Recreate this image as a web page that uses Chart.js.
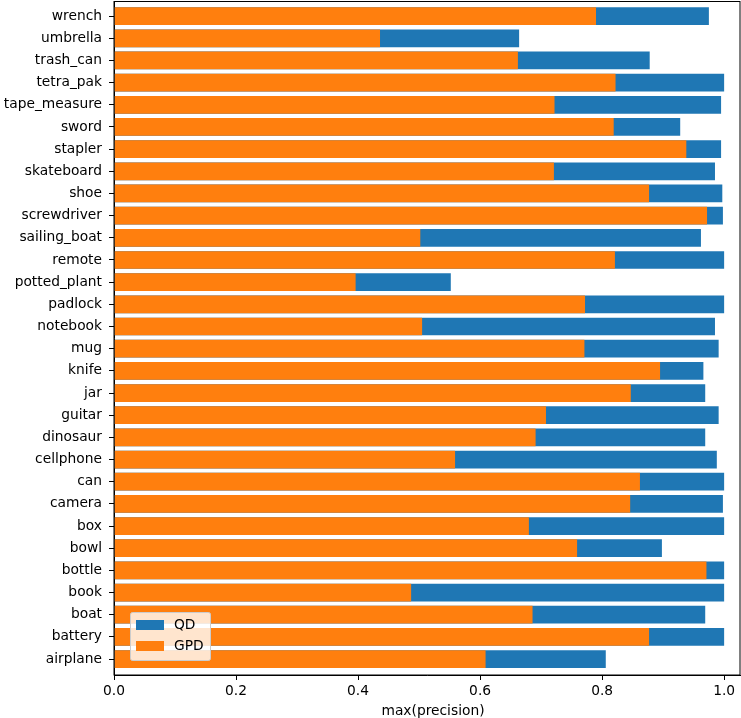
<!DOCTYPE html>
<html>
<head>
<meta charset="utf-8">
<script src="https://cdn.jsdelivr.net/npm/chart.js@4"></script>
<style>html,body{margin:0;padding:0;background:#fff}</style>
</head>
<body>
<canvas id="chart" width="741" height="718"></canvas>
<script>
// categories from bottom (index 0) to top
const categories = ["airplane", "battery", "boat", "book", "bottle", "bowl", "box", "camera", "can", "cellphone",
  "dinosaur", "guitar", "jar", "knife", "mug", "notebook", "padlock", "potted_plant", "remote", "sailing_boat",
  "screwdriver", "shoe", "skateboard", "stapler", "sword", "tape_measure", "tetra_pak", "trash_can", "umbrella", "wrench"];

const qdValues = [0.806, 1.0, 0.969, 1.0, 1.0, 0.898, 1.0, 0.998, 1.0, 0.988,
  0.969, 0.991, 0.969, 0.966, 0.991, 0.985, 1.0, 0.552, 1.0, 0.962,
  0.998, 0.997, 0.985, 0.995, 0.928, 0.995, 1.0, 0.878, 0.664, 0.975];

const gpdValues = [0.609, 0.877, 0.686, 0.487, 0.971, 0.759, 0.680, 0.846, 0.862, 0.559,
  0.691, 0.708, 0.847, 0.895, 0.771, 0.505, 0.772, 0.396, 0.821, 0.502,
  0.972, 0.877, 0.721, 0.938, 0.819, 0.722, 0.822, 0.662, 0.436, 0.790];

const xTicks = [0, 0.2, 0.4, 0.6, 0.8, 1.0];
const xLabel = "max(precision)";

const FONT = "'DejaVu Sans', sans-serif";
const FSIZE = 13.8;

// matplotlib-like box around the axes, plus the x label (sits a bit right of centre in the original)
const framePlugin = {
  id: "frame",
  afterDraw(chart) {
    const { ctx, chartArea: a } = chart;
    ctx.save();
    ctx.strokeStyle = "#000";
    ctx.lineWidth = 1;
    ctx.strokeRect(a.left, a.top, a.right - a.left, a.bottom - a.top);
    ctx.font = FSIZE + "px " + FONT;
    ctx.fillStyle = "#000";
    ctx.textAlign = "center";
    ctx.textBaseline = "middle";
    ctx.fillText(xLabel, (a.left + a.right) / 2 + 6, a.bottom + 36);
    ctx.restore();
  }
};

// legend box in the lower left of the axes
const legendBoxPlugin = {
  id: "legendBox",
  afterDraw(chart) {
    const { ctx, chartArea: a } = chart;
    const x = a.left + 16, y = a.bottom - 63, w = 80, h = 48;
    ctx.save();
    ctx.fillStyle = "rgba(255,255,255,0.8)";
    ctx.strokeStyle = "#cccccc";
    ctx.lineWidth = 1;
    ctx.beginPath();
    ctx.roundRect(x + 0.5, y + 0.5, w, h, 2);
    ctx.fill();
    ctx.stroke();
    ctx.font = FSIZE + "px " + FONT;
    ctx.textBaseline = "middle";
    ctx.textAlign = "left";
    chart.data.datasets.forEach((ds, i) => {
      const ry = y + 8 + i * 21;
      ctx.fillStyle = ds.backgroundColor;
      ctx.fillRect(x + 6, ry, 28, 10);
      ctx.fillStyle = "#000";
      ctx.fillText(ds.label, x + 44, ry + 5);
    });
    ctx.restore();
  }
};

new Chart(document.getElementById("chart"), {
  type: "bar",
  data: {
    datasets: [
      {
        label: "QD",
        data: qdValues.map((v, i) => ({ x: v, y: i })),
        backgroundColor: "#1f77b4",
        order: 1
      },
      {
        label: "GPD",
        data: gpdValues.map((v, i) => ({ x: v, y: i })),
        backgroundColor: "#ff7f0e",
        order: 0
      }
    ]
  },
  options: {
    indexAxis: "y",
    responsive: false,
    animation: false,
    grouped: false,
    categoryPercentage: 1,
    barPercentage: 0.8,
    layout: { padding: { top: 1.5, right: 1, left: 0, bottom: 0 } },
    plugins: {
      legend: { display: false },
      tooltip: { enabled: false }
    },
    scales: {
      x: {
        type: "linear",
        min: 0,
        max: 1.026,
        afterBuildTicks: (scale) => { scale.ticks = xTicks.map((v) => ({ value: v })); },
        afterFit: (scale) => { scale.height = 43; scale.paddingLeft = 0; scale.paddingRight = 0; },
        grid: { drawOnChartArea: false, drawTicks: true, tickLength: 5, color: "#000" },
        border: { display: true, color: "#000" },
        ticks: {
          color: "#000",
          font: { family: FONT, size: FSIZE },
          padding: 3,
          maxRotation: 0,
          autoSkip: false,
          callback: (v) => v.toFixed(1)
        }
      },
      y: {
        type: "linear",
        min: -0.72,
        max: 29.66,
        offset: false,
        afterBuildTicks: (scale) => { scale.ticks = categories.map((_, i) => ({ value: i })); },
        afterFit: (scale) => { scale.width = 114; scale.paddingTop = 0; scale.paddingBottom = 0; },
        grid: { drawOnChartArea: false, drawTicks: true, tickLength: 5, color: "#000", offset: false },
        border: { display: true, color: "#000" },
        ticks: {
          color: "#000",
          font: { family: FONT, size: FSIZE },
          padding: 7,
          autoSkip: false,
          callback: (v) => categories[v]
        }
      }
    }
  },
  plugins: [framePlugin, legendBoxPlugin]
});
</script>
</body>
</html>
